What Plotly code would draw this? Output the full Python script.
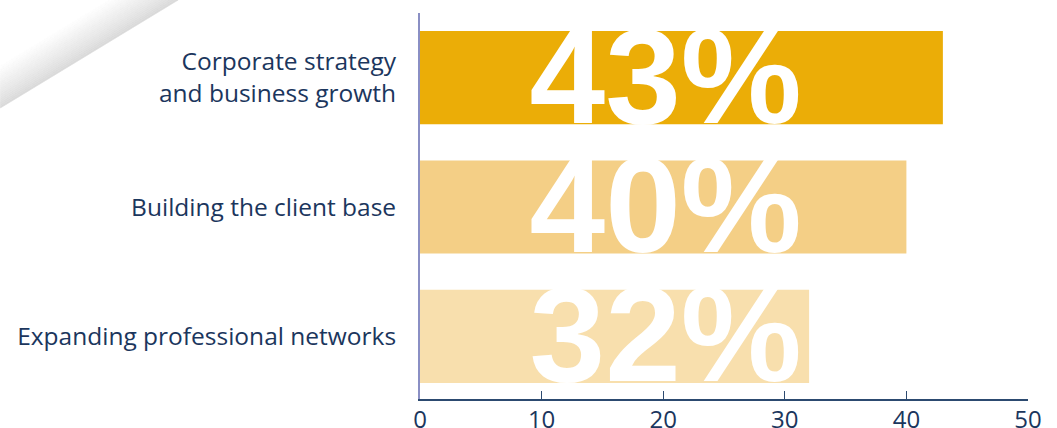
import plotly.graph_objects as go

# Survey results: share of respondents per activity
categories = [
    "Corporate strategy<br>and business growth",
    "Building the client base",
    "Expanding professional networks",
]
values = [43, 40, 32]
value_labels = ["43%", "40%", "32%"]
bar_colors = ["#EBAD07", "#F4CF86", "#F8DFAD"]
x_ticks = [0, 10, 20, 30, 40, 50]

NAVY = "#1B365D"
W, H = 1057, 428
M_L, M_R, M_T, M_B = 420, 28.5, 13, 29
BAR_GAP = 0.28
Y_RANGE = [-0.484, 2.5]
TEXT_X = 20.2
TEXT_DROP = 0.085  # captions sit slightly below the bar centre line

# bottom-to-top order so the first category sits at the top
order = categories[::-1]
# numeric slot of each category on the (bottom-up) category axis
slots = [order.index(c) for c in categories]

fig = go.Figure()
fig.add_trace(go.Bar(
    x=values,
    y=categories,
    orientation="h",
    marker=dict(color=bar_colors, line=dict(width=0)),
    hoverinfo="skip",
))

# oversized white percentage captions; whatever spills past a bar
# vanishes into the white background
fig.add_trace(go.Scatter(
    x=[TEXT_X] * len(values),
    y=[s - TEXT_DROP for s in slots],
    yaxis="y2",
    mode="text",
    text=value_labels,
    textposition="middle center",
    textfont=dict(family="Liberation Sans", size=136, color="white", weight="bold"),
    hoverinfo="skip",
    cliponaxis=False,
))

shapes = []

# soft grey diagonal fold in the top-left corner
plot_w = W - M_L - M_R
plot_h = H - M_T - M_B


def px_to_paper(px, py):
    return (px - M_L) / plot_w, 1 - (py - M_T) / plot_h


slope = 108 / 178.0
n_bands = 22
fade = 38.0  # perpendicular fade width in pixels
step = (fade / n_bands) * (208.0 / 178.0)
for i in range(n_bands):
    t = i / (n_bands - 1)
    g = int(round(218 + (255 - 218) * t ** 0.9))
    b_hi = 108 - i * step
    b_lo = 108 - (i + 1) * step
    if b_lo > 0:
        pts = [(0, b_hi), (b_hi / slope, 0), (b_lo / slope, 0), (0, b_lo)]
    else:
        pts = [(0, b_hi), (b_hi / slope, 0), (0, 0)]
    path = "M " + " L ".join(
        "{:.5f},{:.5f}".format(*px_to_paper(px, py)) for px, py in pts
    ) + " Z"
    c = "rgb({0},{0},{0})".format(g)
    shapes.append(dict(
        type="path", xref="paper", yref="paper", path=path,
        fillcolor=c, line=dict(width=0.6, color=c), layer="below",
    ))

fig.update_layout(
    width=W, height=H,
    margin=dict(l=M_L, r=M_R, t=M_T, b=M_B, autoexpand=False),
    paper_bgcolor="white",
    plot_bgcolor="white",
    showlegend=False,
    bargap=BAR_GAP,
    shapes=shapes,
    font=dict(family="Open Sans", color=NAVY),
    yaxis2=dict(
        overlaying="y", range=Y_RANGE, visible=False, fixedrange=True,
    ),
)

fig.update_xaxes(
    range=[0, 50],
    tickvals=x_ticks,
    ticktext=[str(t) for t in x_ticks],
    ticks="inside", ticklen=8, tickwidth=1, tickcolor="#2C4A70",
    showline=True, linecolor="#2C4A70", linewidth=1.5,
    showgrid=False, zeroline=False,
    tickfont=dict(family="Open Sans", size=24, color=NAVY),
    ticklabelstandoff=-2,
    fixedrange=True,
)
fig.layout.yaxis.update(
    type="category",
    categoryorder="array",
    categoryarray=order,
    range=Y_RANGE,
    showline=True, linecolor="#8A8FC4", linewidth=2,
    ticks="",
    showgrid=False, zeroline=False,
    tickfont=dict(family="Open Sans", size=24.5, color=NAVY),
    ticklabelstandoff=17,
    fixedrange=True,
)

fig.write_html("out.html", config={"displayModeBar": False})
